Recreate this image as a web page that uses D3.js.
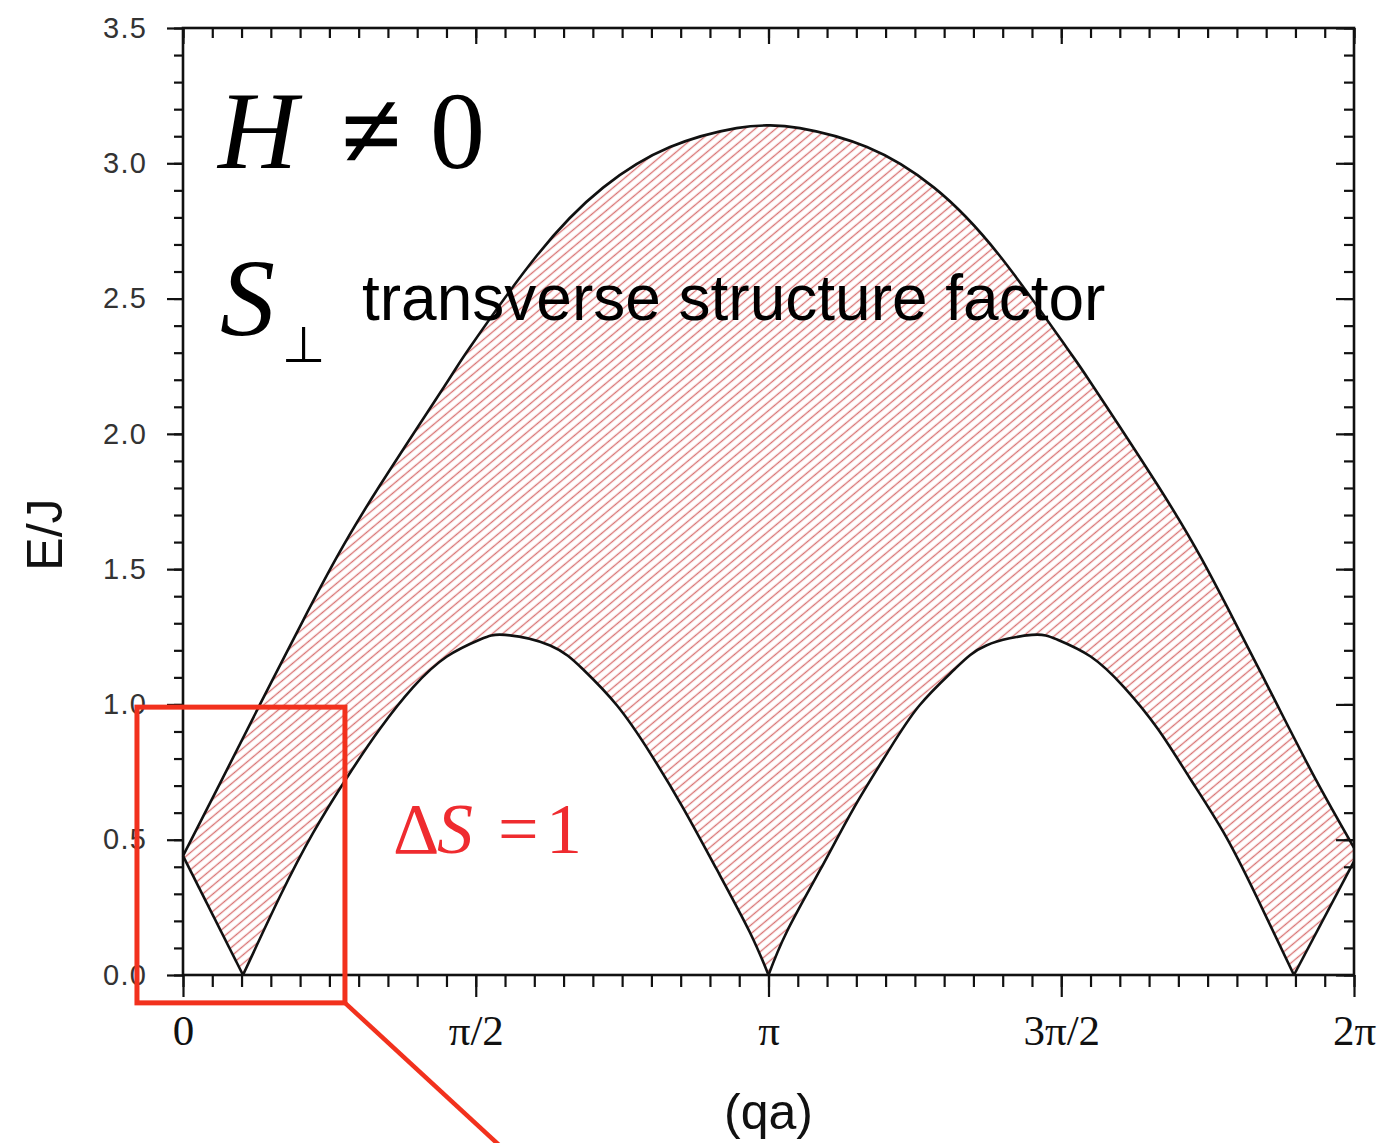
<!DOCTYPE html>
<html>
<head>
<meta charset="utf-8">
<script src="https://cdn.jsdelivr.net/npm/d3@7"></script>
<style>
  body { margin: 0; background: #fff; }
  svg { display: block; }
</style>
</head>
<body>
<svg id="chart" width="1400" height="1143"></svg>
<script>
// continuum boundaries (qa in radians, E in units of J)
const upperQa = [0, 0.2, 0.413, 0.644, 0.826, 1.057, 1.416, 1.54, 1.9, 2.254, 2.613, 2.97, 3.1416,
                 3.31, 3.67, 4.03, 4.38, 4.74, 4.87, 5.23, 5.46, 5.64, 5.87, 6.08, 6.2832];
const upperE = [0.44, 0.71, 1.0, 1.31, 1.545, 1.81, 2.19, 2.32, 2.66, 2.91, 3.06, 3.13, 3.14,
                3.13, 3.06, 2.91, 2.66, 2.32, 2.19, 1.81, 1.545, 1.31, 1.0, 0.72, 0.47];

const lowerQa = [0, 0.322, 0.52, 0.698, 0.88, 1.057, 1.234, 1.416, 1.594, 1.728, 1.97, 2.146, 2.33,
                 2.505, 2.683, 2.864, 3.04, 3.1416, 3.24, 3.42, 3.6, 3.78, 3.95, 4.14, 4.31, 4.555,
                 4.69, 4.87, 5.05, 5.23, 5.4, 5.585, 5.76, 5.961, 6.2832];
const lowerE = [0.44, 0, 0.29, 0.525, 0.73, 0.91, 1.063, 1.177, 1.24, 1.257, 1.218, 1.13, 0.995,
                0.822, 0.618, 0.39, 0.16, 0, 0.16, 0.39, 0.618, 0.822, 0.995, 1.13, 1.218, 1.257,
                1.24, 1.177, 1.063, 0.91, 0.73, 0.525, 0.29, 0, 0.42];

const yTicks = [0, 0.5, 1.0, 1.5, 2.0, 2.5, 3.0, 3.5];
const xTicks = [0, Math.PI / 2, Math.PI, 3 * Math.PI / 2, 2 * Math.PI];
const xTickLabels = ["0", "π/2", "π", "3π/2", "2π"];

const svg = d3.select("#chart");
const plotL = 183, plotR = 1354, plotT = 28, plotB = 975;

const x = d3.scaleLinear().domain([0, 2 * Math.PI]).range([plotL, plotR]);
const y = d3.scaleLinear().domain([0, 3.5]).range([plotB, plotT]);

const upper = upperQa.map((q, i) => [q, upperE[i]]);
const lower = lowerQa.map((q, i) => [q, lowerE[i]]);

// split the lower edge at its zeros (cusps)
const lowerSegs = [];
let seg = [lower[0]];
for (let i = 1; i < lower.length; i++) {
  seg.push(lower[i]);
  if (lower[i][1] === 0 && i < lower.length - 1) {
    lowerSegs.push(seg);
    seg = [lower[i]];
  }
}
lowerSegs.push(seg);

// hatch pattern
const defs = svg.append("defs");
const pat = defs.append("pattern")
  .attr("id", "hatch")
  .attr("patternUnits", "userSpaceOnUse")
  .attr("width", 10)
  .attr("height", 6.6)
  .attr("patternTransform", "rotate(-40)");
pat.append("line")
  .attr("x1", 0).attr("x2", 10)
  .attr("y1", 3.3).attr("y2", 3.3)
  .attr("stroke", "#d97474")
  .attr("stroke-width", 1.35);

const curve = d3.curveNatural;

const area = d3.area()
  .x(d => x(d[0]))
  .y0(y(0))
  .y1(d => y(d[1]))
  .curve(curve);

const line = d3.line()
  .x(d => x(d[0]))
  .y(d => y(d[1]))
  .curve(curve);

// hatched region under the upper edge, then blank out under the lower edge
svg.append("path").datum(upper).attr("d", area).attr("fill", "url(#hatch)");
svg.selectAll(".blank").data(lowerSegs).enter()
  .append("path").attr("class", "blank")
  .attr("d", area).attr("fill", "#fff");

svg.append("path").datum(upper).attr("d", line)
  .attr("fill", "none").attr("stroke", "#111").attr("stroke-width", 2.6);
svg.selectAll(".low").data(lowerSegs).enter()
  .append("path").attr("class", "low")
  .attr("d", line)
  .attr("fill", "none").attr("stroke", "#111").attr("stroke-width", 2.6)
  .attr("stroke-linejoin", "round");

// axes
const minorX = d3.range(0, 41).map(i => i * Math.PI / 20);
const minorY = d3.range(0, 36).map(i => i / 10);

function styleAxis(g) {
  g.select(".domain").remove();
  g.selectAll(".tick line").attr("stroke", "#111").attr("stroke-width", 2.2);
}

svg.append("g").attr("transform", `translate(${plotL},0)`)
  .call(d3.axisLeft(y).tickValues(minorY).tickSize(9).tickFormat(""))
  .call(styleAxis);
svg.append("g").attr("transform", `translate(${plotL},0)`)
  .call(d3.axisLeft(y).tickValues(yTicks).tickSize(16).tickPadding(20).tickFormat(d3.format(".1f")))
  .call(styleAxis)
  .call(g => g.selectAll("text")
    .attr("fill", "#333")
    .style("font", "29px 'Liberation Sans', Arial, sans-serif")
    .style("letter-spacing", "1.2px"));

svg.append("g").attr("transform", `translate(${plotR},0)`)
  .call(d3.axisRight(y).tickValues(minorY).tickSize(-10).tickFormat(""))
  .call(styleAxis);
svg.append("g").attr("transform", `translate(${plotR},0)`)
  .call(d3.axisRight(y).tickValues(yTicks).tickSize(-18).tickFormat(""))
  .call(styleAxis);

svg.append("g").attr("transform", `translate(0,${plotB})`)
  .call(d3.axisBottom(x).tickValues(minorX).tickSize(12).tickFormat(""))
  .call(styleAxis);
svg.append("g").attr("transform", `translate(0,${plotB})`)
  .call(d3.axisBottom(x).tickValues(xTicks).tickSize(22).tickPadding(17)
    .tickFormat((d, i) => xTickLabels[i]))
  .call(styleAxis)
  .call(g => g.selectAll("text")
    .attr("fill", "#111")
    .style("font", "43px 'Liberation Serif', 'Times New Roman', serif"));

svg.append("g").attr("transform", `translate(0,${plotT})`)
  .call(d3.axisTop(x).tickValues(minorX).tickSize(-10).tickFormat(""))
  .call(styleAxis);
svg.append("g").attr("transform", `translate(0,${plotT})`)
  .call(d3.axisTop(x).tickValues(xTicks).tickSize(-16).tickFormat(""))
  .call(styleAxis);

svg.append("rect")
  .attr("x", plotL).attr("y", plotT)
  .attr("width", plotR - plotL).attr("height", plotB - plotT)
  .attr("fill", "none").attr("stroke", "#111").attr("stroke-width", 2.6);

// axis titles
svg.append("text")
  .attr("transform", `translate(62,${(plotT + plotB) / 2 + 33}) rotate(-90)`)
  .attr("text-anchor", "middle")
  .style("font", "50px 'Liberation Sans', Arial, sans-serif")
  .attr("fill", "#111")
  .text("E/J");

svg.append("text")
  .attr("x", x(Math.PI)).attr("y", 1129)
  .attr("text-anchor", "middle")
  .style("font", "50px 'Liberation Sans', Arial, sans-serif")
  .attr("fill", "#111")
  .text("(qa)");

// annotations
const serif = "'Liberation Serif', 'Times New Roman', serif";
svg.append("text").attr("x", 218).attr("y", 168)
  .style("font", `italic 110px ${serif}`).attr("fill", "#000").text("H");
svg.append("text").attr("x", 341).attr("y", 168)
  .style("font", `bold 110px ${serif}`).attr("fill", "#000").text("≠");
svg.append("text").attr("x", 430).attr("y", 168)
  .style("font", `110px ${serif}`).attr("fill", "#000").text("0");

svg.append("text").attr("x", 220).attr("y", 335)
  .style("font", `italic 110px ${serif}`).attr("fill", "#000").text("S");
svg.append("text").attr("x", 282).attr("y", 362)
  .style("font", "50px 'DejaVu Sans', sans-serif").attr("fill", "#000").text("⊥");
svg.append("text").attr("x", 362).attr("y", 320)
  .style("font", "64px 'Liberation Sans', Arial, sans-serif").attr("fill", "#000")
  .text("transverse structure factor");

const red = "#ef2b2f";
const ds = svg.append("text").attr("y", 853)
  .style("font", `72px ${serif}`).attr("fill", red);
ds.append("tspan").attr("x", 393).text("Δ");
ds.append("tspan").attr("x", 437).style("font-style", "italic").text("S");
ds.append("tspan").attr("x", 498).text("=");
ds.append("tspan").attr("x", 546).text("1");

// zoom box over the low-q corner
const boxQa = [-0.247, 0.869], boxE = [-0.103, 0.99];
svg.append("rect")
  .attr("x", x(boxQa[0])).attr("y", y(boxE[1]))
  .attr("width", x(boxQa[1]) - x(boxQa[0]))
  .attr("height", y(boxE[0]) - y(boxE[1]))
  .attr("fill", "none").attr("stroke", "#f2311d").attr("stroke-width", 5);
svg.append("line")
  .attr("x1", x(boxQa[1])).attr("y1", y(boxE[0]))
  .attr("x2", x(boxQa[1]) + 155).attr("y2", y(boxE[0]) + 143)
  .attr("stroke", "#f2311d").attr("stroke-width", 4.5);
</script>
</body>
</html>
